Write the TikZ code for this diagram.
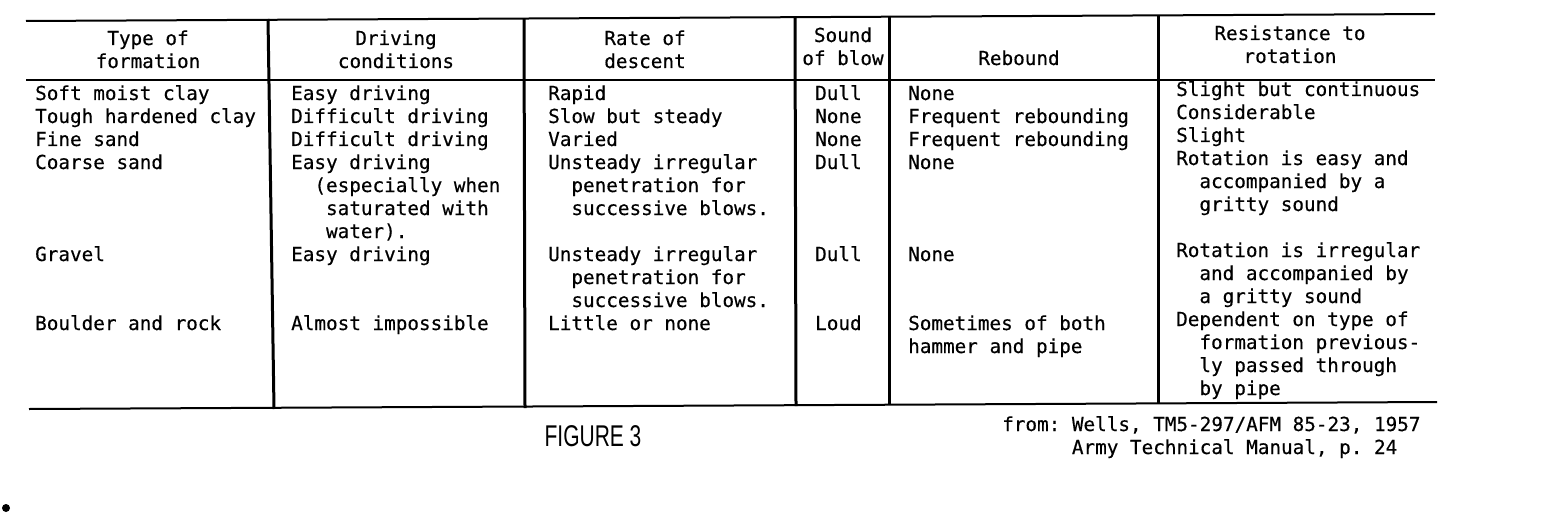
\documentclass[tikz,border=0pt]{standalone}
\usepackage{fontspec}
\setmainfont{DejaVu Sans Mono}[FakeBold=0.4]
\newfontfamily\figfont{Liberation Sans}
\newcommand{\cellrows}[1]{\begin{tabular}[t]{@{}l@{}}#1\end{tabular}}
\newcommand{\headrows}[1]{\begin{tabular}[t]{@{}c@{}}#1\end{tabular}}
\newcommand{\tw}{\phantom{xx}}
\newcommand{\thr}{\phantom{xxx}}
\frenchspacing

\begin{document}
\begin{tikzpicture}
	[x=1pt, y=-1pt, font=\fontsize{19.3}{23}\selectfont,
	 rule/.style={line width=2pt}, colrule/.style={line width=3pt},
	 head/.style={anchor=base, inner sep=0pt},
	 cell/.style={anchor=base west, inner sep=0pt}]
	\useasboundingbox (0,0) rectangle (1562,524);
	% rules
	\draw[rule] (26,21) -- (1435,14);
	\draw[rule] (26,80) -- (1435,80);
	\draw[rule] (29,409) -- (1437,402);
	\draw[colrule] (268,19) -- (274,409);
	\draw[colrule] (524,19) -- (525,408);
	\draw[colrule] (795,17) -- (796,406);
	\draw[colrule] (889,16) -- (889,405);
	\draw[colrule] (1158,15) -- (1158,403);
	% headings
	\node[head] (h-type) at (148,45) {\headrows{Type of\\formation}};
	\node[head] (h-drive) at (396,45) {\headrows{Driving\\conditions}};
	\node[head] (h-rate) at (645,45) {\headrows{Rate of\\descent}};
	\node[head] (h-sound) at (843,42) {\headrows{Sound\\of blow}};
	\node[head] (h-rebound) at (1019,65) {Rebound};
	\node[head] (h-resist) at (1290,40) {\headrows{Resistance to\\rotation}};
	% type of formation
	\node[cell] (f-soft) at (35,100) {Soft moist clay};
	\node[cell] (f-tough) at (35,123) {Tough hardened clay};
	\node[cell] (f-fine) at (35,146) {Fine sand};
	\node[cell] (f-coarse) at (35,169) {Coarse sand};
	\node[cell] (f-gravel) at (35,261) {Gravel};
	\node[cell] (f-rock) at (35,330) {Boulder and rock};
	% driving conditions
	\node[cell] (d-soft) at (291,100) {Easy driving};
	\node[cell] (d-tough) at (291,123) {Difficult driving};
	\node[cell] (d-fine) at (291,146) {Difficult driving};
	\node[cell] (d-coarse) at (291,169) {\cellrows{Easy driving\\\tw(especially when\\\thr saturated with\\\thr water).}};
	\node[cell] (d-gravel) at (291,261) {Easy driving};
	\node[cell] (d-rock) at (291,330) {Almost impossible};
	% rate of descent
	\node[cell] (r-soft) at (548,100) {Rapid};
	\node[cell] (r-tough) at (548,123) {Slow but steady};
	\node[cell] (r-fine) at (548,146) {Varied};
	\node[cell] (r-coarse) at (548,169) {\cellrows{Unsteady irregular\\\tw penetration for\\\tw successive blows.}};
	\node[cell] (r-gravel) at (548,261) {\cellrows{Unsteady irregular\\\tw penetration for\\\tw successive blows.}};
	\node[cell] (r-rock) at (548,330) {Little or none};
	% sound of blow
	\node[cell] (s-soft) at (815,100) {Dull};
	\node[cell] (s-tough) at (815,123) {None};
	\node[cell] (s-fine) at (815,146) {None};
	\node[cell] (s-coarse) at (815,169) {Dull};
	\node[cell] (s-gravel) at (815,261) {Dull};
	\node[cell] (s-rock) at (815,330) {Loud};
	% rebound
	\node[cell] (b-soft) at (908,100) {None};
	\node[cell] (b-tough) at (908,123) {Frequent rebounding};
	\node[cell] (b-fine) at (908,146) {Frequent rebounding};
	\node[cell] (b-coarse) at (908,169) {None};
	\node[cell] (b-gravel) at (908,261) {None};
	\node[cell] (b-rock) at (908,330) {\cellrows{Sometimes of both\\hammer and pipe}};
	% resistance to rotation
	\node[cell] (t-soft) at (1176,96) {Slight but continuous};
	\node[cell] (t-tough) at (1176,119) {Considerable};
	\node[cell] (t-fine) at (1176,142) {Slight};
	\node[cell] (t-coarse) at (1176,165) {\cellrows{Rotation is easy and\\\tw accompanied by a\\\tw gritty sound}};
	\node[cell] (t-gravel) at (1176,257) {\cellrows{Rotation is irregular\\\tw and accompanied by\\\tw a gritty sound}};
	\node[cell] (t-rock) at (1176,326) {\cellrows{Dependent on type of\\\tw formation previous-\\\tw ly passed through\\\tw by pipe}};
	% caption and source
	\node[inner sep=0pt, xscale=0.7] (fig) at (593,436) {\figfont\fontsize{30}{30}\selectfont FIGURE 3};
	\node[cell] (source) at (1002,431) {\cellrows{from: Wells, TM5-297/AFM 85-23, 1957\\\phantom{from:x}Army Technical Manual, p. 24}};
	\fill (6,508) circle (4);
\end{tikzpicture}
\end{document}
